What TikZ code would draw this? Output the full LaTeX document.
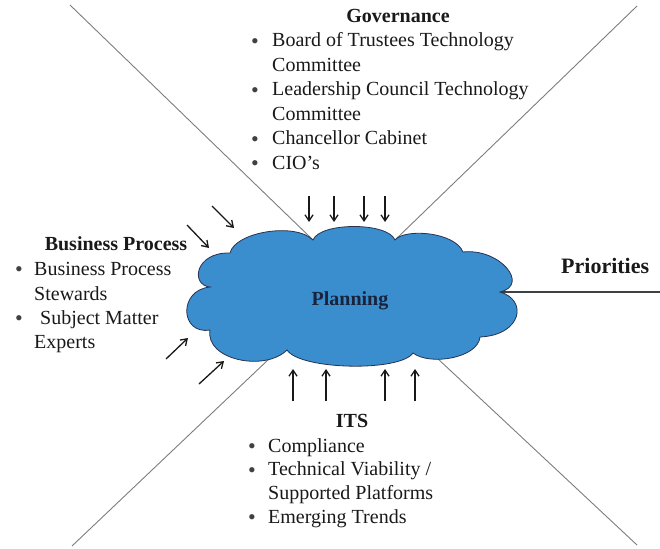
\documentclass[tikz,border=0pt]{standalone}
\usepackage{fontspec}
\setmainfont{Liberation Serif}
\usetikzlibrary{arrows.meta}
\definecolor{cloudblue}{RGB}{58,142,206}
\definecolor{cloudedge}{RGB}{40,50,80}
\definecolor{linegray}{RGB}{125,125,125}
\definecolor{plantext}{RGB}{25,35,60}
\newcommand{\bigbul}{\raisebox{-1.5pt}[0pt][0pt]{•}}
\begin{document}
\begin{tikzpicture}[x=1pt,y=-1pt,
  txt/.style={inner sep=0pt, anchor=base west, font=\fontsize{20}{24}\selectfont, text=black!90},
  ttl/.style={inner sep=0pt, anchor=base, font=\fontsize{20}{24}\selectfont\bfseries, text=black!90},
  bul/.style={inner sep=0pt, anchor=base, font=\fontsize{22}{24}\selectfont, text=black!75},
  arr/.style={line width=1.3pt, black!90, -{Straight Barb[length=6pt,width=8pt]}},
  diag/.style={linegray, line width=0.9pt},
  cloudshape/.style={fill=cloudblue, draw=cloudedge, line width=0.8pt}]
\useasboundingbox (0,0) rectangle (660,548);

% corners and cloud attachment points
\coordinate (ctl) at (70,5);
\coordinate (ctr) at (637,6);
\coordinate (cbl) at (72,546);
\coordinate (cbr) at (637,545);
\coordinate (cright) at (660,292);
\coordinate (kt1) at (313,240);
\coordinate (kt2) at (395,240);
\coordinate (kb1) at (270,358);
\coordinate (kb2) at (437,358);
\coordinate (kr) at (500,292);

\draw[diag] (ctl) -- (kt1);
\draw[diag] (ctr) -- (kt2);
\draw[diag] (cbl) -- (kb1);
\draw[diag] (cbr) -- (kb2);
\draw[diag, line width=1.1pt, black!75] (kr) -- (cright);

% cloud
\draw[cloudshape] (kt1) .. controls (320,222) and (388,222) .. (kt2)
 .. controls (405,228) and (455,232) .. (463,252)
 .. controls (500,248) and (530,285) .. (kr)
 .. controls (528,300) and (522,335) .. (480,337)
 .. controls (478,358) and (430,366) .. (413,353)
 .. controls (400,372) and (300,370) .. (287,350)
 .. controls (265,372) and (205,360) .. (210,330)
 .. controls (180,335) and (178,290) .. (210,287)
 .. controls (190,285) and (195,252) .. (230,253)
 .. controls (235,232) and (295,222) .. (kt1) -- cycle;
\node[inner sep=0pt, anchor=base, font=\fontsize{20}{24}\selectfont\bfseries, text=plantext] (plan) at (350,305) {Planning};

% Governance
\node[ttl] (gt) at (398,23) {Governance};
\node[bul] (gb1) at (255,47) {\bigbul};
\node[txt] (g1) at (272,47) {Board of Trustees Technology};
\node[txt] (g2) at (272,71.5) {Committee};
\node[bul] (gb2) at (255,96) {\bigbul};
\node[txt] (g3) at (272,96) {Leadership Council Technology};
\node[txt] (g4) at (272,120.5) {Committee};
\node[bul] (gb3) at (255,145) {\bigbul};
\node[txt] (g5) at (272,145) {Chancellor Cabinet};
\node[bul] (gb4) at (255,169) {\bigbul};
\node[txt] (g6) at (272,169) {CIO’s};

% Business Process
\node[ttl] (bt) at (116,250) {Business Process};
\node[bul] (bb1) at (19,275) {\bigbul};
\node[txt] (b1) at (34,275) {Business Process};
\node[txt] (b2) at (34,300) {Stewards};
\node[bul] (bb2) at (19,324) {\bigbul};
\node[txt] (b3) at (40,324) {Subject Matter};
\node[txt] (b4) at (34,348) {Experts};

% ITS
\node[ttl] (it) at (352,427) {ITS};
\node[bul] (ib1) at (252,452) {\bigbul};
\node[txt] (i1) at (268,452) {Compliance};
\node[bul] (ib2) at (252,475.5) {\bigbul};
\node[txt] (i2) at (268,475.5) {Technical Viability /};
\node[txt] (i3) at (268,499) {Supported Platforms};
\node[bul] (ib3) at (252,523) {\bigbul};
\node[txt] (i4) at (268,523) {Emerging Trends};

% Priorities
\node[inner sep=0pt, anchor=base west, font=\fontsize{22}{26}\selectfont\bfseries, text=black!90] (pri) at (561,273) {Priorities};

% arrows
\foreach \x in {309,334,364,385} \draw[arr] (\x,196) -- (\x,222);
\foreach \x in {293,326,385,415} \draw[arr] (\x,401) -- (\x,369);
\draw[arr] (212,206) -- (234,228);
\draw[arr] (187,225) -- (209,248);
\draw[arr] (166,359) -- (188,338);
\draw[arr] (199,384) -- (224,361);
\end{tikzpicture}
\end{document}
